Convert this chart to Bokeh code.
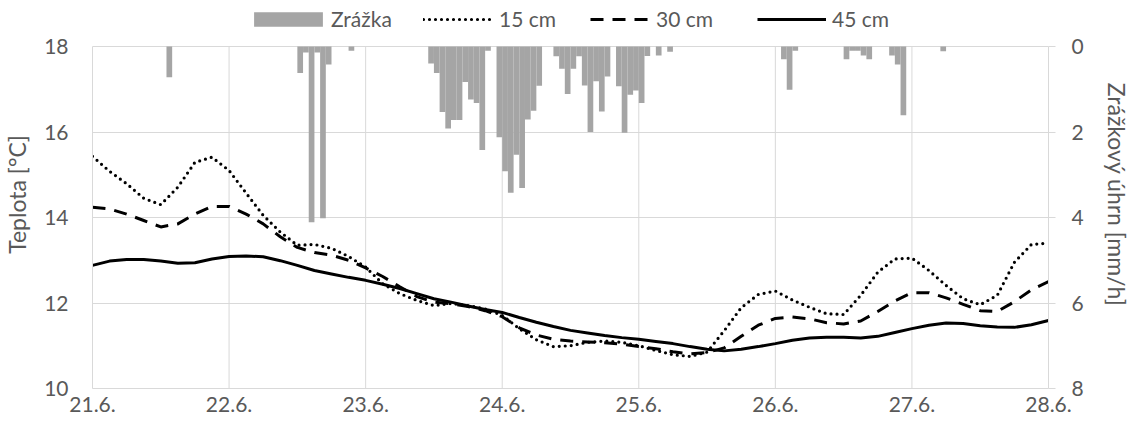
from bokeh.plotting import figure
from bokeh.models import (Range1d, LinearAxis, FixedTicker, Legend, LegendItem)
from bokeh.embed import file_html
from bokeh.resources import INLINE

# ---- data ---------------------------------------------------------------
day_ticks = [0, 24, 48, 72, 96, 120, 144, 168]          # hours since 21.6. 00:00
day_labels = ["21.6.", "22.6.", "23.6.", "24.6.", "25.6.", "26.6.", "27.6.", "28.6."]

# hourly precipitation [mm/h], hour index since 21.6. 00:00
rain_hour = [13, 36, 37, 38, 39, 40, 41, 45,
             59, 60, 61, 62, 63, 64, 65, 66, 67, 68, 69,
             71, 72, 73, 74, 75, 76, 77, 78,
             81, 82, 83, 84, 85, 86, 87, 88, 89, 90,
             92, 93, 94, 95, 96, 97, 99, 101,
             121, 122, 123, 132, 133, 134, 135, 136, 140, 141, 142, 149]
rain_mm = [0.72, 0.62, 0.14, 4.11, 0.14, 4.02, 0.42, 0.10,
           0.40, 0.62, 1.53, 1.92, 1.72, 1.72, 0.83, 1.24, 1.32, 2.42, 0.10,
           2.12, 2.92, 3.42, 2.53, 3.31, 1.71, 1.50, 0.92,
           0.23, 0.52, 1.11, 0.52, 0.23, 0.91, 2.00, 0.81, 1.52, 0.70,
           0.93, 2.02, 1.13, 1.03, 1.32, 0.22, 0.21, 0.12,
           0.30, 1.01, 0.10, 0.30, 0.10, 0.10, 0.21, 0.30, 0.21, 0.42, 1.61, 0.11]

# soil temperature every 3 hours [°C]
t_hour = list(range(0, 169, 3))
temp_15 = [15.43, 15.08, 14.79, 14.45, 14.30, 14.71, 15.29, 15.41, 15.10, 14.57,
           14.05, 13.66, 13.35, 13.37, 13.28, 13.09, 12.84, 12.45, 12.22, 12.06,
           11.94, 11.99, 11.94, 11.86, 11.71, 11.40, 11.14, 10.98, 11.00, 11.08,
           11.11, 11.08, 11.00, 10.89, 10.79, 10.75, 10.85, 11.35, 11.89, 12.20,
           12.28, 12.07, 11.90, 11.75, 11.73, 12.18, 12.72, 13.03, 13.05, 12.76,
           12.41, 12.10, 11.96, 12.18, 12.95, 13.37, 13.40]
temp_30 = [14.24, 14.20, 14.08, 13.93, 13.78, 13.85, 14.08, 14.26, 14.26, 14.08,
           13.85, 13.55, 13.30, 13.18, 13.12, 13.00, 12.82, 12.62, 12.38, 12.15,
           12.02, 11.98, 11.92, 11.82, 11.68, 11.42, 11.25, 11.15, 11.11, 11.09,
           11.07, 11.04, 10.98, 10.93, 10.86, 10.81, 10.84, 10.95, 11.22, 11.48,
           11.64, 11.67, 11.63, 11.54, 11.51, 11.58, 11.80, 12.05, 12.24, 12.24,
           12.12, 11.97, 11.82, 11.80, 12.03, 12.31, 12.50]
temp_45 = [12.88, 12.98, 13.02, 13.02, 12.98, 12.93, 12.94, 13.03, 13.09, 13.10,
           13.08, 12.99, 12.88, 12.76, 12.68, 12.60, 12.53, 12.44, 12.34, 12.22,
           12.10, 12.02, 11.93, 11.85, 11.78, 11.66, 11.55, 11.45, 11.36, 11.30,
           11.24, 11.19, 11.15, 11.10, 11.05, 10.98, 10.92, 10.88, 10.92, 10.98,
           11.05, 11.13, 11.18, 11.20, 11.20, 11.18, 11.22, 11.31, 11.40, 11.48,
           11.53, 11.52, 11.47, 11.44, 11.43, 11.49, 11.59]

temp_ticks = [10, 12, 14, 16, 18]
rain_ticks = [0, 2, 4, 6, 8]

# ---- styling / layout ---------------------------------------------------
FONT = "Lato"
TXT = "#595959"
GRID = "#D9D9D9"
BAR = "#A5A5A5"

PLOT_H = 342          # px spanned by the 10..18 °C scale
STRIP_H = 46          # px of legend strip kept above the scale, inside the frame
pad = (temp_ticks[-1] - temp_ticks[0]) * STRIP_H / PLOT_H

p = figure(width=1133, height=432, output_backend="svg", toolbar_location=None,
           x_range=Range1d(day_ticks[0], day_ticks[-1]),
           y_range=Range1d(temp_ticks[0], temp_ticks[-1] + pad),
           min_border_left=92, min_border_right=84, min_border_top=0, min_border_bottom=44)
p.outline_line_color = None
p.background_fill_color = "white"

# secondary (reversed) precipitation scale
p.extra_y_ranges = {"rain": Range1d(start=rain_ticks[-1], end=rain_ticks[0] - pad)}

# vertical day grid, limited to the scale area
p.segment(x0=day_ticks, x1=day_ticks, y0=[temp_ticks[0]] * len(day_ticks),
          y1=[temp_ticks[-1]] * len(day_ticks), line_color=GRID, line_width=1)

# bars
bar_r = p.vbar(x=[h + 0.5 for h in rain_hour], top=rain_mm, bottom=0, width=1.0,
               y_range_name="rain", fill_color=BAR, line_color=None)

# temperature lines
r15 = p.line(t_hour, temp_15, line_color="black", line_width=3.2,
             line_dash="0 6", line_cap="round")
r30 = p.line(t_hour, temp_30, line_color="black", line_width=3.0,
             line_dash="13 9")
r45 = p.line(t_hour, temp_45, line_color="black", line_width=3.0)

# axes
xa = p.xaxis[0]
xa.ticker = FixedTicker(ticks=day_ticks)
xa.major_label_overrides = {t: lab for t, lab in zip(day_ticks, day_labels)}
ya = p.yaxis[0]
ya.ticker = FixedTicker(ticks=temp_ticks)
ya.bounds = (temp_ticks[0], temp_ticks[-1])
ya.axis_label = "Teplota [°C]"

ra = LinearAxis(y_range_name="rain", ticker=FixedTicker(ticks=rain_ticks),
                bounds=(rain_ticks[0], rain_ticks[-1]),
                axis_label="Zrážkový úhrn [mm/h]")
p.add_layout(ra, "right")

for ax in (xa, ya, ra):
    ax.axis_line_color = GRID
    ax.axis_line_width = 1
    ax.major_tick_in = 0
    ax.minor_tick_line_color = None
    ax.major_label_text_font = FONT
    ax.major_label_text_font_size = "21px"
    ax.major_label_text_color = TXT
    ax.axis_label_text_font = FONT
    ax.axis_label_text_font_size = "23px"
    ax.axis_label_text_color = TXT
    ax.axis_label_text_font_style = "normal"

xa.major_tick_out = 0
xa.major_label_standoff = 8
ya.major_tick_out = 0
ya.major_label_standoff = 24
ya.axis_label_standoff = 10
ra.major_tick_out = 7
ra.major_tick_line_color = GRID
ra.major_label_standoff = 16
ra.axis_label_standoff = 16

p.xgrid.visible = False
p.ygrid.grid_line_color = GRID
p.ygrid.ticker = FixedTicker(ticks=temp_ticks)

# legend: one entry per box so each can sit on its own spot in the top strip
entries = [("Zrážka", bar_r, 153, 86, 0), ("15 cm", r15, 331, 70, 6),
           ("30 cm", r30, 498, 60, 6), ("45 cm", r45, 665, 69, 6)]
for label, rend, lx, gw, gap in entries:
    lg = Legend(items=[LegendItem(label=label, renderers=[rend])],
                location=(lx, 357), orientation="horizontal",
                background_fill_alpha=0, border_line_color=None,
                padding=0, margin=0, spacing=0,
                glyph_width=gw, glyph_height=18, label_standoff=gap,
                label_text_font=FONT, label_text_font_size="21px",
                label_text_color=TXT, label_text_baseline="middle")
    p.add_layout(lg, "center")

open("out.html", "w").write(file_html(p, INLINE))
